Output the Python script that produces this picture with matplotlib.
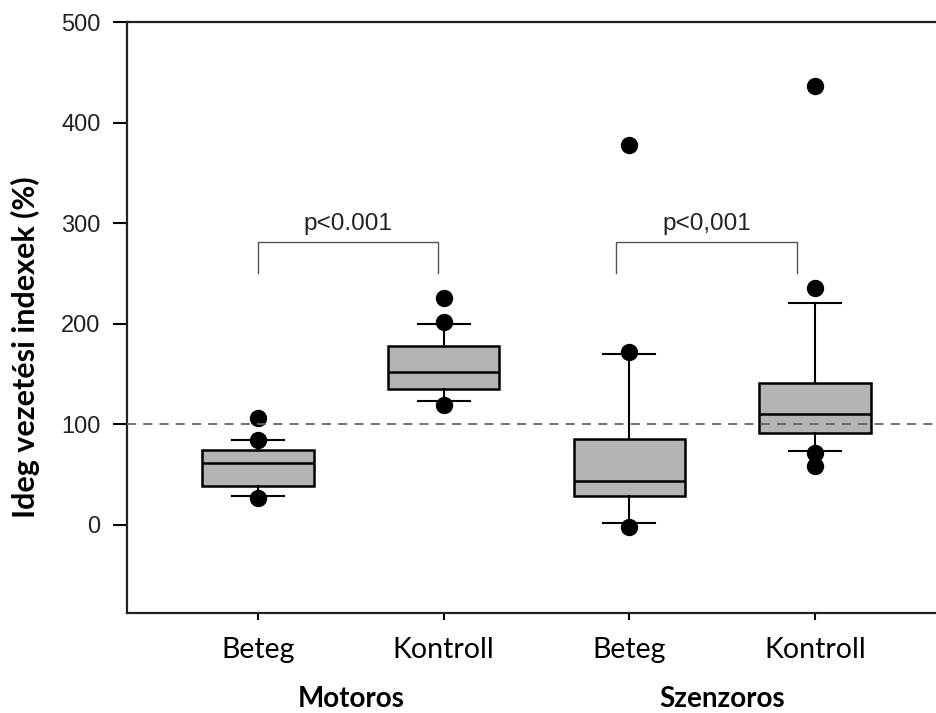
import matplotlib
matplotlib.use('Agg')
import matplotlib.pyplot as plt

# values
groups = ['Beteg', 'Kontroll', 'Beteg', 'Kontroll']
categories = ['Motoros', 'Szenzoros']
medians = [61, 152, 43, 110]
q1 = [38, 135, 28, 91]
q3 = [74, 178, 85, 141]
whisk_lo = [28, 123, 2, 73]
whisk_hi = [84, 200, 170, 220]
outliers = [[106, 84, 26], [225, 202, 119], [378, 172, -2], [436, 235, 71, 58]]
p_labels = ['p<0.001', 'p<0,001']
reference_line = 100

positions = [1, 2, 3, 4]

stats = []
for i in range(len(groups)):
    stats.append({'med': medians[i], 'q1': q1[i], 'q3': q3[i],
                  'whislo': whisk_lo[i], 'whishi': whisk_hi[i],
                  'fliers': outliers[i]})

fig = plt.figure(figsize=(9.36, 7.13), dpi=100)
ax = fig.add_axes([0.1357, 0.1403, 0.8643, 0.8288])

ax.axhline(reference_line, color='#666666', linestyle=(0, (5, 4)), linewidth=1.3, zorder=3)

ax.bxp(stats, positions=positions, widths=0.6, patch_artist=True,
       boxprops=dict(facecolor='#b4b4b4', edgecolor='black', linewidth=1.8),
       medianprops=dict(color='black', linewidth=1.8),
       whiskerprops=dict(color='black', linewidth=1.5),
       capprops=dict(color='black', linewidth=1.5),
       capwidths=0.28,
       flierprops=dict(marker='o', markerfacecolor='black', markeredgecolor='black',
                       markersize=11.5, linestyle='none'),
       zorder=2)

# significance brackets
brackets = [(1.0, 1.97), (2.93, 3.9)]
for (x0, x1), lab in zip(brackets, p_labels):
    ax.plot([x0, x0, x1, x1], [250, 281, 281, 250], color='#555555', linewidth=1.0)
    ax.text((x0 + x1) / 2, 288, lab, ha='center', va='bottom', fontsize=17.5,
            family='Liberation Sans', color='#222222')

ax.set_xlim(0.296, 4.65)
ax.set_ylim(-88, 500)
ax.set_yticks([0, 100, 200, 300, 400, 500])
ax.set_yticklabels(['0', '100', '200', '300', '400', '500'], family='Liberation Sans',
                   fontsize=17, color='#222222')
ax.set_xticks(positions)
ax.set_xticklabels(groups, family='Lato', fontsize=20.5)
ax.tick_params(axis='y', length=10, width=1.5, pad=9)
ax.tick_params(axis='x', length=5, width=1.5, pad=12)

for s in ['left', 'bottom', 'top']:
    ax.spines[s].set_linewidth(1.6)
    ax.spines[s].set_color('#222222')
ax.spines['right'].set_visible(False)

ax.set_ylabel('Ideg vezetési indexek (%)', family='Lato', fontweight='bold', fontsize=22)
ax.yaxis.set_label_coords(-0.107, 0.45)

for j, cat in enumerate(categories):
    ax.text(1.5 + 2 * j, -0.145, cat, transform=ax.get_xaxis_transform(), ha='center',
            va='center', family='Lato', fontweight='bold', fontsize=20)

fig.savefig('out.png', dpi=100)
